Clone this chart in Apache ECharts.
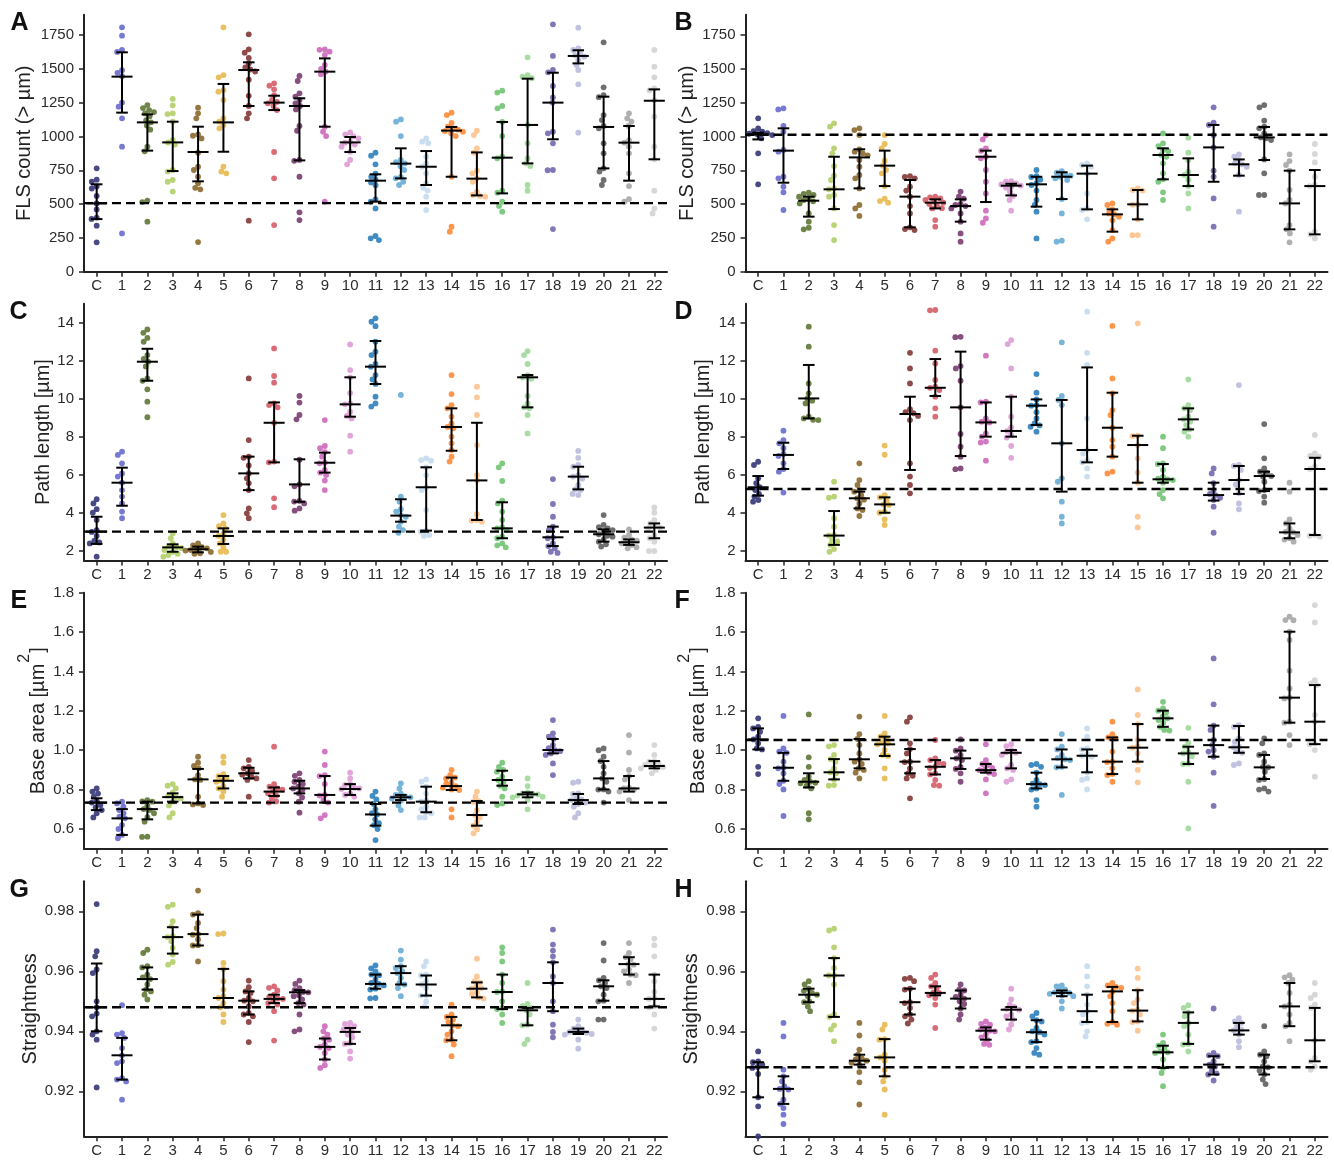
<!DOCTYPE html>
<html><head><meta charset="utf-8">
<script src="https://cdn.jsdelivr.net/npm/echarts@6/dist/echarts.min.js"></script>
<style>html,body{margin:0;padding:0;background:#fff}#c{width:1334px;height:1163px}</style>
</head><body><div id="c"></div>
<script>
const categories = ['C','1','2','3','4','5','6','7','8','9','10','11','12','13','14','15','16','17','18','19','20','21','22'];
const colors = ['#393b79','#6b6ecf','#637939','#b5cf6b','#8c6d31','#e7ba52','#843c39','#d6616b','#7b4173','#ce6dbd','#de9ed6','#3182bd','#6baed6','#c6dbef','#fd8d3c','#fdc38e','#74c476','#a1d99b','#756bb1','#bcbddc','#636363','#a8a8a8','#d4d4d4'];

// ---- Panel A : FLS count (left) ----
const A_pts = [
[764,680,665,630,615,560,505,460,400,390,340,217],
[1807,1745,1640,1625,1490,1470,1445,1250,1220,1134,924,283],
[1232,1210,1195,1180,1170,1150,1120,1104,1080,1050,924,890,525,515,370],
[1277,1230,1171,1165,1110,975,955,940,752,740,678,665,592],
[1213,1171,1134,1015,1005,985,880,776,752,702,653,620,609,219],
[1807,1454,1437,1343,1331,1269,1134,1110,1085,1060,776,740,727],
[1755,1644,1619,1580,1540,1510,1495,1480,1420,1300,1225,1171,1134,377],
[1393,1375,1348,1306,1270,1255,1245,1225,1195,885,690,345],
[1447,1410,1319,1294,1270,1245,1225,1200,1077,1042,826,820,702,439,382],
[1644,1640,1627,1602,1528,1500,1479,1460,1072,1035,1003,517],
[1030,1015,1000,986,960,954,940,924,887,826,794],
[880,858,794,725,702,680,660,640,535,517,468,264,247,234],
[1126,1109,1003,826,810,801,780,752,700,690,665,641],
[986,961,950,850,801,776,727,653,621,600,555,456],
[1176,1158,1100,1072,1060,1050,1040,1035,1023,1003,702,333,296],
[1042,1010,912,880,747,727,690,665,592,567,560,555],
[1338,1324,1225,1208,1107,1003,850,838,599,584,517,486,444],
[1585,1454,1442,1430,1085,949,838,801,781,641,599],
[1829,1595,1491,1474,1373,1289,1250,1035,1023,949,752,750,315],
[1804,1651,1639,1614,1600,1590,1565,1528,1491,1385,1028],
[1696,1363,1306,1290,1158,1121,1077,1060,949,875,764,740,678,641],
[1171,1134,1110,1077,973,954,924,875,727,633,537,517],
[1639,1516,1437,1356,1340,1269,1146,924,831,599,468,431]];
const A_med = [505,1442,1104,956,885,1104,1491,1250,1225,1479,956,673,799,776,1043,688,843,1085,1250,1595,1070,954,1264];
const A_q1 = [389,1176,895,744,668,887,1225,1195,823,1072,885,518,690,641,702,564,579,801,979,1540,764,673,831];
const A_q3 = [646,1622,1163,1109,1072,1388,1548,1301,1282,1577,996,720,912,892,1070,882,1107,1427,1471,1637,1294,1077,1348];
const A_ref = 507;

// ---- Panel B : FLS count (right) ----
const B_pts = [
[1134,1060,1040,1035,1025,1020,1015,1010,1005,986,875,646],
[1208,1200,1077,1035,900,887,702,690,628,587,456],
[584,575,567,555,542,530,520,505,431,370,325,313],
[1097,1072,912,875,781,710,678,616,609,567,555,468,345,234],
[1060,1047,1010,905,887,875,860,826,776,715,690,616,493,468,412],
[1010,944,912,821,784,752,727,633,540,522,510],
[707,700,690,628,600,555,485,431,328,315,308],
[555,550,542,530,517,510,500,485,470,468,382,333],
[592,555,540,500,493,485,468,431,370,283,222],
[1010,978,912,894,850,838,752,665,579,451,394,362],
[670,665,653,645,636,630,621,592,560,530,451],
[752,707,700,680,653,641,600,530,493,444,246],
[744,732,715,710,702,690,678,537,431,229,222],
[801,789,776,725,579,468,456,387],
[505,493,461,431,424,407,380,308,246,222],
[616,604,600,498,495,387,271,270],
[1023,949,929,900,892,863,850,801,727,683,665,587,530],
[991,880,826,740,715,680,633,579,468],
[1215,1102,1085,1010,919,747,702,542,333],
[868,850,826,801,794,776,715,444],
[1232,1215,1117,1072,1060,1023,993,986,973,830,727,567,567],
[868,818,789,747,604,530,505,345,313,283,217],
[944,870,808,702,641,633,296,276,246]];
const B_med = [1015,895,525,609,845,784,555,510,485,850,636,646,702,725,424,498,863,715,919,794,993,505,633];
const B_q1 = [978,658,407,463,616,633,328,468,370,515,564,481,537,461,296,387,683,633,665,710,826,313,276];
const B_q3 = [1028,1060,555,850,905,895,678,535,535,895,650,702,735,784,461,604,912,838,1085,830,1070,747,752];
const B_ref = 1012;

// ---- Panel C : Path length (left) ----
const C_pts = [
[4.72,4.5,4.2,4.01,3.63,3.1,3.0,2.79,2.54,2.45,2.40,1.70],
[7.22,7.05,6.61,6.08,5.91,5.59,5.2,4.86,4.5,4.07,3.72],
[13.65,13.47,13.2,13.0,12.3,12.1,11.95,11.7,11.07,10.95,10.5,9.85,9.03],
[2.93,2.67,2.4,2.23,2.2,2.15,2.05,1.95,1.85,1.79,1.70],
[2.40,2.3,2.2,2.14,2.1,2.05,2.02,1.95,1.88,1.85],
[3.89,3.45,3.3,3.19,2.9,2.79,2.6,2.40,2.2,1.96,1.96],
[11.07,7.83,6.96,6.9,6.5,6.08,5.82,5.56,5.2,4.24,3.98,3.72],
[12.65,11.2,10.85,9.76,9.67,9.55,8.74,6.7,6.66,4.77,4.3],
[10.15,9.8,9.15,8.92,6.8,5.5,5.4,4.63,4.6,4.5,4.24,4.12],
[8.88,7.52,7.4,7.2,6.96,6.64,6.61,6.26,6.12,5.99,5.70,5.2],
[12.86,11.51,11.13,10.3,9.76,9.71,9.32,9.1,8.97,8.06,7.22],
[14.23,14.05,13.82,13.0,12.48,12.3,11.83,11.69,11.25,11.02,10.78,10.11,9.76,9.59],
[10.2,4.86,4.59,4.2,4.07,3.89,3.8,3.54,3.28,3.10,2.96],
[6.87,6.78,6.75,6.4,5.99,5.35,5.2,4.15,3.07,3.02,2.84,2.79],
[11.25,10.25,9.67,9.5,9.06,8.71,8.52,8.45,8.01,7.66,7.31,6.96,6.70],
[10.64,10.08,9.15,7.57,5.99,5.71,3.94,3.63,3.6,3.54],
[6.61,6.4,5.68,4.65,4.5,4.07,3.63,3.24,3.19,3.1,2.75,2.67,2.4,2.3,2.19],
[12.51,12.3,11.83,11.25,11.13,11.05,10.15,9.76,9.55,9.5,9.15,8.18],
[5.78,4.47,3.80,3.28,3.1,2.72,2.67,2.40,2.26,2.14,1.96,1.9],
[7.26,6.9,6.52,6.43,5.99,5.91,5.8,5.47,5.24,5.2,5.0,4.94],
[3.89,3.37,3.25,3.19,3.1,3.0,2.88,2.8,2.75,2.6,2.49,2.35,2.23],
[3.14,2.84,2.7,2.6,2.54,2.46,2.4,2.32,2.2,2.14],
[4.29,4.01,3.63,3.45,3.3,3.23,3.19,2.8,2.67,2.49,2.0,2.0]];
const C_med = [3.02,5.59,11.95,2.19,2.09,2.79,6.08,8.74,5.50,6.64,9.71,11.69,3.86,5.35,8.52,5.71,3.19,11.13,2.72,5.91,2.88,2.46,3.23];
const C_q1 = [2.37,4.38,10.95,1.96,1.93,2.37,5.2,6.66,4.59,6.12,9.06,10.78,3.54,3.07,7.27,3.63,2.67,9.55,2.26,5.24,2.49,2.32,2.67];
const C_q3 = [3.80,6.38,12.63,2.35,2.23,3.19,6.96,9.81,6.82,7.17,11.13,13.04,4.72,6.4,9.5,8.74,4.56,11.25,3.28,6.43,3.14,2.61,3.45];
const C_ref = 3.02;

// ---- Panel D : Path length (right) ----
const D_pts = [
[6.69,6.52,5.82,5.56,5.35,5.2,5.0,4.86,4.68,4.59],
[8.32,7.83,7.66,7.4,7.1,7.0,6.61,6.31,6.17,5.07],
[13.79,12.74,10.81,10.29,10.02,9.9,9.76,9.06,8.97,8.9,8.88],
[5.64,4.86,4.8,3.72,3.28,2.84,2.81,2.58,2.5,2.32,2.1,1.96],
[6.61,5.73,5.47,5.2,5.12,4.94,4.77,4.7,4.5,4.24,4.15,3.84],
[7.54,7.06,4.94,4.82,4.68,4.45,4.42,4.07,4.01,3.66,3.37],
[12.42,11.6,10.81,9.45,9.3,9.24,9.1,8.88,6.61,5.91,5.47,5.03],
[14.67,14.65,12.53,11.86,10.99,10.64,10.58,10.46,10.11,9.5,9.06],
[13.26,13.24,11.72,11.6,10.95,9.55,8.15,7.48,6.96,6.34,6.3],
[12.27,9.85,9.81,8.97,8.8,8.76,8.18,8.01,7.75,7.7,6.75],
[13.09,12.88,11.6,10.11,9.06,8.5,8.31,8.1,7.96,7.52,6.9],
[11.3,10.32,9.97,9.67,9.64,9.3,8.97,8.71,8.6,8.53,8.27],
[12.97,10.15,9.94,9.67,7.66,5.82,5.64,4.59,3.8,3.45],
[14.58,12.42,11.78,8.97,7.31,7.13,6.78,6.66,6.34,5.91],
[13.83,11.07,10.29,9.41,9.15,8.48,7.83,7.48,6.96,6.17,6.08],
[13.97,8.06,8.04,7.57,6.87,6.12,5.59,3.8,3.24],
[8.01,7.4,6.61,6.57,6.26,5.91,5.8,5.77,5.73,5.59,5.2,4.99,4.77],
[11.02,9.67,9.5,9.41,9.06,8.92,8.8,8.62,8.39,8.27,8.01],
[6.34,6.08,5.56,5.2,5.0,4.94,4.8,4.68,4.33,2.96],
[10.72,6.52,6.47,6.26,5.73,5.5,5.03,4.5,4.19],
[8.67,6.87,6.34,6.17,6.1,5.94,5.91,5.64,5.2,5.15,4.86,4.54],
[5.59,5.12,3.66,3.45,3.19,3.0,2.98,2.84,2.67,2.6,2.49],
[8.1,7.13,7.0,6.96,6.43,6.31,2.84,2.8,2.75]];
const D_med = [5.35,7.05,10.02,2.81,4.77,4.45,9.2,10.58,9.55,8.76,8.31,9.64,7.66,7.31,8.48,7.57,5.77,8.92,4.94,5.73,5.94,2.98,6.31];
const D_q1 = [4.91,6.31,8.97,2.32,4.24,4.01,6.26,10.15,6.99,8.01,8.01,8.62,5.12,6.66,6.96,5.59,5.59,8.39,4.65,5.0,5.15,2.67,2.84];
const D_q3 = [5.94,7.69,11.78,4.10,5.12,4.82,10.11,12.09,12.48,9.81,10.11,9.97,9.94,11.65,10.32,8.06,6.57,9.5,5.59,6.47,6.17,3.45,6.9];
const D_ref = 5.26;

// ---- Panel E : Base area (left) ----
const E_pts = [
[0.806,0.79,0.78,0.764,0.742,0.734,0.722,0.71,0.696,0.68,0.659],
[0.739,0.73,0.713,0.696,0.68,0.663,0.654,0.62,0.6,0.57,0.553],
[0.747,0.74,0.739,0.72,0.701,0.696,0.68,0.66,0.637,0.561,0.56],
[0.828,0.82,0.806,0.784,0.77,0.762,0.755,0.739,0.72,0.68,0.659],
[0.967,0.937,0.92,0.908,0.874,0.852,0.849,0.764,0.73,0.725,0.722],
[0.967,0.937,0.879,0.869,0.857,0.845,0.84,0.818,0.806,0.79,0.764],
[0.95,0.916,0.908,0.895,0.883,0.876,0.866,0.857,0.849,0.764],
[1.018,0.828,0.815,0.806,0.8,0.79,0.781,0.77,0.756,0.74,0.734],
[0.883,0.87,0.849,0.84,0.828,0.815,0.806,0.8,0.781,0.76,0.739,0.683],
[0.993,0.925,0.874,0.869,0.828,0.773,0.77,0.747,0.734,0.671,0.654],
[0.886,0.857,0.828,0.823,0.81,0.806,0.803,0.781,0.773,0.764],
[0.79,0.768,0.75,0.727,0.7,0.68,0.674,0.649,0.63,0.62,0.6,0.544],
[0.832,0.806,0.78,0.773,0.765,0.761,0.755,0.744,0.72,0.696],
[0.852,0.84,0.815,0.78,0.747,0.739,0.713,0.7,0.685,0.68,0.659,0.659],
[0.9,0.874,0.861,0.857,0.835,0.83,0.818,0.81,0.801,0.798,0.7,0.659],
[0.79,0.764,0.742,0.739,0.696,0.671,0.66,0.637,0.617,0.598,0.578],
[0.937,0.916,0.9,0.891,0.866,0.849,0.84,0.82,0.806,0.764,0.73,0.722],
[0.857,0.818,0.786,0.781,0.778,0.776,0.77,0.764,0.761,0.747,0.7],
[1.153,1.086,1.069,1.057,1.026,1.01,1.001,0.995,0.984,0.976,0.933,0.874],
[0.84,0.835,0.781,0.778,0.756,0.75,0.747,0.734,0.727,0.713,0.68,0.659],
[1.009,1.0,0.967,0.945,0.916,0.883,0.857,0.84,0.801,0.8,0.79,0.734],
[1.077,0.988,0.9,0.869,0.852,0.81,0.806,0.8,0.79,0.747],
[1.026,0.976,0.945,0.942,0.93,0.925,0.92,0.915,0.908,0.9,0.883]];
const E_med = [0.734,0.654,0.701,0.762,0.852,0.845,0.883,0.79,0.806,0.773,0.803,0.674,0.761,0.739,0.818,0.671,0.849,0.776,1.001,0.747,0.857,0.806,0.92];
const E_q1 = [0.696,0.57,0.649,0.739,0.73,0.806,0.857,0.768,0.781,0.734,0.773,0.617,0.747,0.685,0.798,0.617,0.82,0.761,0.984,0.727,0.801,0.79,0.908];
const E_q3 = [0.756,0.701,0.739,0.781,0.905,0.869,0.911,0.811,0.845,0.869,0.828,0.727,0.773,0.815,0.861,0.742,0.896,0.786,1.057,0.778,0.945,0.869,0.945];
const E_ref = 0.734;

// ---- Panel F : Base area (right) ----
const F_pts = [
[1.162,1.119,1.111,1.094,1.069,1.055,1.035,1.009,1.004,0.916,0.879],
[1.174,1.009,0.993,0.987,0.942,0.911,0.908,0.883,0.845,0.828,0.801,0.666],
[1.182,0.964,0.916,0.866,0.849,0.84,0.835,0.832,0.82,0.806,0.68,0.649],
[1.026,1.02,0.976,0.955,0.942,0.908,0.888,0.883,0.852,0.823,0.82],
[1.171,1.082,1.057,1.026,0.984,0.954,0.942,0.93,0.908,0.9,0.886,0.857],
[1.174,1.086,1.069,1.06,1.04,1.035,1.03,1.001,0.976,0.971,0.908,0.857],
[1.167,1.145,1.035,1.006,0.984,0.942,0.94,0.908,0.883,0.87,0.857,0.756],
[1.052,0.959,0.95,0.937,0.93,0.916,0.91,0.883,0.877,0.849,0.823,0.82],
[1.055,1.009,0.998,0.976,0.959,0.95,0.916,0.905,0.883,0.84],
[1.03,0.95,0.93,0.925,0.91,0.903,0.899,0.886,0.879,0.852,0.781],
[1.031,1.021,1.001,0.99,0.987,0.976,0.925,0.908,0.9,0.852,0.84],
[0.93,0.925,0.916,0.886,0.849,0.83,0.828,0.823,0.806,0.8,0.747,0.713],
[1.082,1.018,1.004,0.976,0.96,0.954,0.95,0.916,0.913,0.773],
[1.111,1.069,1.009,1.004,0.98,0.972,0.967,0.888,0.857,0.849,0.801],
[1.145,1.082,1.065,1.06,0.993,0.942,0.94,0.908,0.879,0.874,0.84],
[1.309,1.179,1.133,1.052,1.021,1.013,0.984,0.942,0.9,0.837],
[1.246,1.213,1.201,1.191,1.171,1.162,1.153,1.14,1.119,1.103,1.1],
[1.114,1.038,1.018,0.99,0.984,0.97,0.933,0.93,0.84,0.603],
[1.466,1.233,1.125,1.103,1.052,1.026,1.0,0.993,0.967,0.886,0.717],
[1.128,1.119,1.06,1.043,1.018,1.015,0.993,0.987,0.933,0.925],
[1.06,1.035,0.984,0.976,0.942,0.916,0.913,0.891,0.854,0.849,0.806,0.8,0.79],
[1.678,1.661,1.66,1.602,1.56,1.404,1.314,1.267,1.263,1.145,1.14,1.077,1.026],
[1.737,1.649,1.356,1.339,1.331,1.179,1.145,1.035,1.031,1.001,0.866]];
const F_med = [1.055,0.911,0.84,0.888,0.954,1.03,0.942,0.916,0.959,0.899,0.987,0.828,0.954,0.972,0.942,1.013,1.162,0.984,1.026,1.015,0.913,1.267,1.145];
const F_q1 = [1.004,0.845,0.811,0.852,0.908,0.971,0.883,0.877,0.905,0.886,0.908,0.806,0.913,0.888,0.879,0.942,1.119,0.93,0.967,0.987,0.854,1.14,1.031];
const F_q3 = [1.111,0.987,0.883,0.955,1.057,1.069,1.006,0.95,0.998,0.93,1.001,0.886,1.004,1.004,1.065,1.133,1.201,1.018,1.125,1.123,0.976,1.602,1.331];
const F_ref = 1.052;

// ---- Panel G : Straightness (left) ----
const G_pts = [
[0.9824,0.9667,0.965,0.9606,0.9594,0.95,0.948,0.9459,0.945,0.94,0.9389,0.9372,0.9213],
[0.9487,0.9394,0.9389,0.9378,0.9344,0.932,0.93,0.9294,0.9244,0.9239,0.9233,0.9172],
[0.9672,0.9661,0.9617,0.9613,0.9589,0.958,0.9574,0.9556,0.9539,0.9533,0.9522,0.9506],
[0.9822,0.9815,0.9767,0.975,0.9717,0.9714,0.97,0.9678,0.9656,0.9631,0.9622],
[0.9869,0.9794,0.9789,0.9761,0.9744,0.9724,0.9722,0.9706,0.9687,0.9686,0.9633],
[0.9726,0.9724,0.9628,0.9608,0.9567,0.9539,0.9517,0.9511,0.9494,0.948,0.9456,0.9431],
[0.9569,0.9547,0.9533,0.9528,0.9511,0.9502,0.95,0.9483,0.9461,0.9456,0.945,0.9431,0.9364],
[0.955,0.9545,0.9536,0.9522,0.9515,0.9509,0.9508,0.95,0.9494,0.9489,0.9467,0.9369],
[0.9569,0.9558,0.9544,0.9537,0.9531,0.953,0.952,0.9517,0.9506,0.9494,0.9489,0.9456,0.9406,0.94],
[0.9417,0.94,0.9389,0.9376,0.9372,0.9356,0.9348,0.9344,0.9328,0.9306,0.9287,0.9278],
[0.9428,0.9425,0.9417,0.9411,0.9406,0.9398,0.9389,0.938,0.9361,0.9358,0.9333,0.9309],
[0.962,0.961,0.96,0.9589,0.9587,0.9572,0.9561,0.9558,0.9553,0.9542,0.9539,0.9511,0.951],
[0.9669,0.9639,0.9617,0.9611,0.96,0.9594,0.9578,0.9561,0.9556,0.9544,0.9517],
[0.9633,0.9617,0.9589,0.9586,0.9567,0.9556,0.9544,0.952,0.9519,0.95,0.9483],
[0.9489,0.9456,0.9448,0.9439,0.943,0.942,0.9417,0.94,0.9389,0.9372,0.937,0.9356,0.9317],
[0.9642,0.9583,0.9567,0.9563,0.955,0.9544,0.9542,0.953,0.9524,0.9513,0.9509],
[0.968,0.9661,0.9633,0.9589,0.9561,0.9533,0.9531,0.95,0.9478,0.9474,0.9456,0.9428],
[0.9561,0.9491,0.9485,0.9478,0.947,0.9456,0.9422,0.942,0.9372,0.9358],
[0.9739,0.9689,0.9669,0.965,0.963,0.9583,0.9561,0.95,0.9467,0.9422,0.9398,0.938],
[0.9439,0.9417,0.9409,0.9406,0.9398,0.9398,0.9395,0.9391,0.9389,0.9372,0.9342],
[0.9694,0.9636,0.9578,0.957,0.9561,0.955,0.9544,0.9522,0.9502,0.95,0.9439,0.9439],
[0.9694,0.9661,0.9647,0.964,0.9624,0.9622,0.9606,0.96,0.9589,0.9587,0.9561],
[0.9709,0.9687,0.965,0.9589,0.9567,0.9531,0.9511,0.9508,0.9483,0.948,0.9456,0.9409]];
const G_med = [0.948,0.932,0.9574,0.9714,0.9724,0.9511,0.9502,0.9508,0.953,0.9348,0.9398,0.9558,0.9594,0.9556,0.942,0.9542,0.9531,0.947,0.9561,0.9398,0.955,0.9624,0.9508];
const G_q1 = [0.94,0.9239,0.9539,0.9659,0.9686,0.948,0.9456,0.9494,0.9494,0.9306,0.9358,0.9542,0.9556,0.9519,0.937,0.9513,0.9474,0.942,0.9467,0.9391,0.9502,0.9589,0.9483];
const G_q3 = [0.9626,0.9378,0.9613,0.9747,0.9789,0.9608,0.9533,0.9522,0.9537,0.9376,0.9411,0.9589,0.9617,0.9586,0.9448,0.9563,0.9589,0.9478,0.963,0.9409,0.957,0.9647,0.9589];
const G_ref = 0.948;

// ---- Panel H : Straightness (right) ----
const H_pts = [
[0.9333,0.93,0.9297,0.9289,0.9281,0.9278,0.9258,0.918,0.915,0.905],
[0.9428,0.9383,0.9272,0.925,0.9233,0.9217,0.9208,0.9206,0.9172,0.9158,0.9144,0.9122,0.9091],
[0.9567,0.9556,0.9542,0.9535,0.9528,0.9522,0.9517,0.95,0.9497,0.9483,0.9467],
[0.9742,0.9736,0.968,0.9644,0.9611,0.9587,0.9586,0.9556,0.9456,0.9448,0.942,0.9406,0.9367],
[0.9428,0.9386,0.9339,0.9322,0.931,0.9306,0.9302,0.9295,0.9289,0.9264,0.923,0.9156],
[0.9422,0.9406,0.9374,0.9372,0.9322,0.9313,0.9302,0.9272,0.925,0.9233,0.9206,0.9122],
[0.9578,0.9575,0.9567,0.9542,0.9539,0.9497,0.9494,0.9478,0.9456,0.945,0.9439,0.9426],
[0.9589,0.9578,0.9561,0.955,0.9544,0.953,0.9528,0.952,0.9511,0.9489,0.9411],
[0.9556,0.9539,0.9536,0.9522,0.9515,0.9509,0.95,0.9491,0.9476,0.9456,0.9439],
[0.9433,0.9425,0.9422,0.9413,0.9406,0.9402,0.94,0.9389,0.938,0.9372,0.9358,0.9355],
[0.9542,0.9506,0.9489,0.9481,0.9475,0.9472,0.9456,0.945,0.9439,0.9422,0.9406],
[0.9461,0.945,0.9437,0.9433,0.9411,0.94,0.9397,0.9389,0.9367,0.9364,0.9344,0.9328,0.9322],
[0.9553,0.955,0.9539,0.9536,0.953,0.9528,0.9525,0.952,0.9517,0.95,0.9476],
[0.9617,0.9583,0.955,0.9522,0.9489,0.9467,0.9456,0.9431,0.9428,0.94,0.9383],
[0.9561,0.9553,0.9548,0.9545,0.9533,0.9517,0.9494,0.9467,0.9431,0.9425,0.9422],
[0.9609,0.9578,0.9537,0.9506,0.9494,0.9472,0.9469,0.9456,0.9433,0.9431,0.9402],
[0.9389,0.9361,0.9352,0.9344,0.9333,0.933,0.9328,0.9306,0.9278,0.9261,0.9217],
[0.9487,0.9478,0.9463,0.945,0.9428,0.9417,0.9389,0.9358,0.9356,0.9333],
[0.9476,0.9328,0.932,0.9317,0.93,0.9289,0.9283,0.9269,0.926,0.9256,0.9236],
[0.9444,0.9433,0.9428,0.9417,0.9406,0.9403,0.9389,0.9367,0.9347],
[0.9417,0.9333,0.9322,0.9317,0.93,0.9283,0.928,0.9269,0.9256,0.9239,0.9224],
[0.9587,0.958,0.9572,0.9561,0.9528,0.9489,0.9483,0.9456,0.9428,0.9417,0.9367],
[0.9561,0.9522,0.9511,0.9489,0.9478,0.937,0.9311,0.93,0.9283,0.9272]];
const H_med = [0.9281,0.9208,0.9522,0.9586,0.9302,0.9313,0.9497,0.9528,0.9509,0.9402,0.9472,0.9397,0.9528,0.9467,0.9533,0.9469,0.933,0.9428,0.9289,0.9403,0.928,0.9483,0.937];
const H_q1 = [0.918,0.9158,0.9497,0.9448,0.9289,0.925,0.9456,0.952,0.9476,0.9372,0.9439,0.9364,0.9517,0.9431,0.9431,0.9433,0.9278,0.9358,0.9256,0.9389,0.9256,0.9417,0.93];
const H_q3 = [0.9297,0.925,0.9542,0.9644,0.9322,0.9374,0.9542,0.955,0.9536,0.9413,0.9481,0.9437,0.9536,0.9522,0.9548,0.9537,0.9352,0.9463,0.9317,0.9428,0.9322,0.9561,0.9478];
const H_ref = 0.928;

// tick labels
const ticksCount = [0,250,500,750,1000,1250,1500,1750];
const ticksPath = [2,4,6,8,10,12,14];
const ticksArea = [0.6,0.8,1.0,1.2,1.4,1.6,1.8];
const ticksStraight = [0.92,0.94,0.96,0.98];

const FONT = '"Liberation Sans", Arial, Helvetica, sans-serif';
const L = {left: 84, width: 583}, R = {left: 745.5, width: 582};
const rows = [
  {top: 14.7, height: 257, min: 0, max: 1900, ticks: ticksCount, fmt: v => String(v), title: 'FLS count (> µm)'},
  {top: 303.7, height: 256.8, min: 1.5, max: 15, ticks: ticksPath, fmt: v => String(v), title: 'Path length [µm]'},
  {top: 592.7, height: 256, min: 0.5, max: 1.8, ticks: ticksArea, fmt: v => v.toFixed(1), title: 'Base area [µm'},
  {top: 881.3, height: 255, min: 0.905, max: 0.99, ticks: ticksStraight, fmt: v => v.toFixed(2), title: 'Straightness'}
];
const panels = [
  {letter:'A', row:0, side:L, pts:A_pts, med:A_med, q1:A_q1, q3:A_q3, ref:A_ref, tx:24.5, lx:10.5},
  {letter:'B', row:0, side:R, pts:B_pts, med:B_med, q1:B_q1, q3:B_q3, ref:B_ref, tx:687, lx:674.5},
  {letter:'C', row:1, side:L, pts:C_pts, med:C_med, q1:C_q1, q3:C_q3, ref:C_ref, tx:43.5, lx:9.5},
  {letter:'D', row:1, side:R, pts:D_pts, med:D_med, q1:D_q1, q3:D_q3, ref:D_ref, tx:703.5, lx:674.5},
  {letter:'E', row:2, side:L, pts:E_pts, med:E_med, q1:E_q1, q3:E_q3, ref:E_ref, tx:38, lx:10.5},
  {letter:'F', row:2, side:R, pts:F_pts, med:F_med, q1:F_q1, q3:F_q3, ref:F_ref, tx:698.5, lx:674.5},
  {letter:'G', row:3, side:L, pts:G_pts, med:G_med, q1:G_q1, q3:G_q3, ref:G_ref, tx:30, lx:9.5},
  {letter:'H', row:3, side:R, pts:H_pts, med:H_med, q1:H_q1, q3:H_q3, ref:H_ref, tx:691, lx:674.5}
];

const DOT = 5.8;   // symbol size
const SEP = 5.3;   // swarm separation (px)

function swarm(vals, pxPerUnit, d) {
  const order = vals.map((v, i) => i).sort((a, b) => vals[b] - vals[a]);
  const placed = [];
  const off = new Array(vals.length).fill(0);
  for (const i of order) {
    const y = vals[i] * pxPerUnit;
    const cands = [0];
    for (const p of placed) {
      const dy = Math.abs(p.y - y);
      if (dy < d) { const dx = Math.sqrt(d * d - dy * dy); cands.push(p.x + dx, p.x - dx); }
    }
    cands.sort((a, b) => (Math.abs(a) - Math.abs(b)) || (a - b));
    let best = 0;
    for (const c of cands) {
      if (placed.every(p => (p.x - c) * (p.x - c) + (p.y - y) * (p.y - y) >= d * d - 1e-6)) { best = c; break; }
    }
    placed.push({x: best, y: y});
    off[i] = best;
  }
  return off;
}

const measure = (() => {
  const cv = document.createElement('canvas').getContext('2d');
  return (t, f) => { cv.font = f; return cv.measureText(t).width; };
})();

const grid = [], xAxis = [], yAxis = [], series = [], graphic = [];
panels.forEach((p, k) => {
  const r = rows[p.row];
  grid.push({left: p.side.left, width: p.side.width, top: r.top, height: r.height, containLabel: false});
  xAxis.push({
    type: 'category', gridIndex: k, data: categories, boundaryGap: true, position: 'bottom',
    axisLine: {show: true, onZero: false, lineStyle: {color: '#222', width: 2}},
    axisTick: {show: true, alignWithLabel: true, length: 5, lineStyle: {color: '#222', width: 1.5}},
    axisLabel: {interval: 0, fontSize: 15, color: '#2b2b2b', margin: 7, fontFamily: FONT},
    splitLine: {show: false}
  });
  xAxis.push({type: 'value', gridIndex: k, min: -0.5, max: 22.5, show: false, splitLine: {show: false}});
  yAxis.push({
    type: 'value', gridIndex: k, min: r.min, max: r.max,
    axisLine: {show: true, onZero: false, lineStyle: {color: '#222', width: 2}},
    axisTick: {show: true, length: 5, lineStyle: {color: '#222', width: 1.5}, customValues: r.ticks},
    axisLabel: {fontSize: 15, color: '#2b2b2b', margin: 10, fontFamily: FONT, customValues: r.ticks, formatter: r.fmt},
    splitLine: {show: false}
  });
  const catW = p.side.width / 23;
  const ppu = r.height / (r.max - r.min);
  const data = [];
  p.pts.forEach((vals, i) => {
    const off = swarm(vals, ppu, SEP);
    vals.forEach((v, j) => data.push({value: [i + off[j] / catW, v], itemStyle: {color: colors[i]}}));
  });
  series.push({type: 'scatter', xAxisIndex: 2 * k + 1, yAxisIndex: k, data: data, symbolSize: DOT,
    itemStyle: {opacity: 0.92}, silent: true, z: 2, animation: false});
  series.push({type: 'line', xAxisIndex: 2 * k + 1, yAxisIndex: k, data: [[-0.5, p.ref], [22.5, p.ref]],
    symbol: 'none', silent: true, z: 3, animation: false,
    lineStyle: {color: '#000', width: 2.4, type: [9, 5]}});
  const eb = p.med.map((m, i) => [i, m, p.q1[i], p.q3[i]]);
  series.push({type: 'custom', xAxisIndex: 2 * k + 1, yAxisIndex: k, data: eb, silent: true, z: 4, animation: false,
    renderItem: (params, api) => {
      const i = api.value(0);
      const pm = api.coord([i, api.value(1)]);
      const pa = api.coord([i, api.value(2)]);
      const pb = api.coord([i, api.value(3)]);
      const st = {stroke: '#000', lineWidth: 2, fill: null};
      const hm = 10.5, hc = 5.8;
      return {type: 'group', children: [
        {type: 'line', shape: {x1: pa[0], y1: pa[1], x2: pb[0], y2: pb[1]}, style: st},
        {type: 'line', shape: {x1: pm[0] - hm, y1: pm[1], x2: pm[0] + hm, y2: pm[1]}, style: st},
        {type: 'line', shape: {x1: pa[0] - hc, y1: pa[1], x2: pa[0] + hc, y2: pa[1]}, style: st},
        {type: 'line', shape: {x1: pb[0] - hc, y1: pb[1], x2: pb[0] + hc, y2: pb[1]}, style: st}
      ]};
    }});
  // panel letter
  graphic.push({type: 'text', x: p.lx, y: r.top + 8.5, silent: true,
    style: {text: p.letter, font: 'bold 25px ' + FONT, fill: '#111', align: 'left', verticalAlign: 'middle', textAlign: 'left', textVerticalAlign: 'middle'}});
  // axis title
  const cy = r.top + r.height / 2;
  const tfont = '20px ' + FONT;
  if (p.row === 2) {
    const sfont = '16px ' + FONT;
    const w1 = measure(r.title, tfont), w2 = measure('2', sfont), w3 = measure(']', tfont);
    const total = w1 + w2 + w3 + 2;
    const y0 = cy + total / 2;
    graphic.push({type: 'text', x: p.tx, y: y0, rotation: Math.PI / 2, silent: true,
      style: {text: r.title, font: tfont, fill: '#222', align: 'left', verticalAlign: 'middle', textAlign: 'left', textVerticalAlign: 'middle'}});
    graphic.push({type: 'text', x: p.tx - 13.5, y: y0 - w1 - 1, rotation: Math.PI / 2, silent: true,
      style: {text: '2', font: sfont, fill: '#222', align: 'left', verticalAlign: 'middle', textAlign: 'left', textVerticalAlign: 'middle'}});
    graphic.push({type: 'text', x: p.tx, y: y0 - w1 - w2 - 2, rotation: Math.PI / 2, silent: true,
      style: {text: ']', font: tfont, fill: '#222', align: 'left', verticalAlign: 'middle', textAlign: 'left', textVerticalAlign: 'middle'}});
  } else {
    graphic.push({type: 'text', x: p.tx, y: cy, rotation: Math.PI / 2, silent: true,
      style: {text: r.title, font: tfont, fill: '#222', align: 'center', verticalAlign: 'middle', textAlign: 'center', textVerticalAlign: 'middle'}});
  }
});

const chart = echarts.init(document.getElementById('c'), null, {renderer: 'canvas'});
chart.setOption({animation: false, backgroundColor: '#fff', textStyle: {fontFamily: FONT},
  grid: grid, xAxis: xAxis, yAxis: yAxis, series: series, graphic: graphic});
</script></body></html>
